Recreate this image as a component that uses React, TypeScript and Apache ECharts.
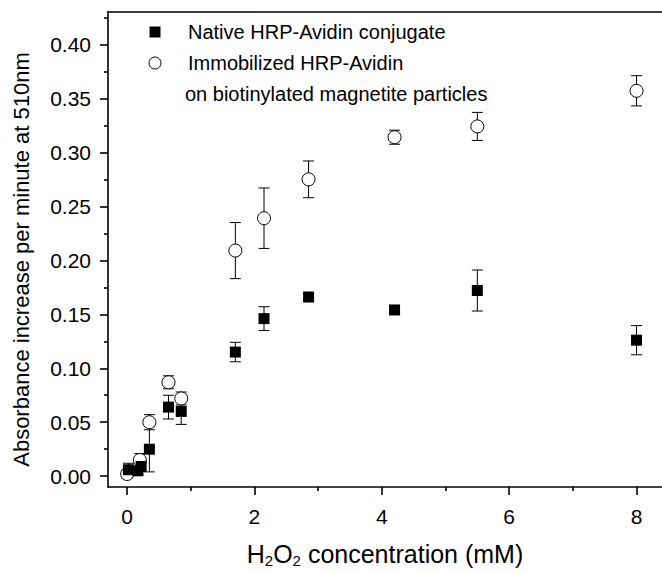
import React, { useEffect, useRef } from "react";
import * as echarts from "echarts";

// Data
const nativeX = [0.02, 0.17, 0.22, 0.35, 0.65, 0.85, 1.7, 2.15, 2.85, 4.2, 5.5, 8.0];
const nativeY = [0.006, 0.005, 0.009, 0.025, 0.064, 0.06, 0.115, 0.146, 0.166, 0.154, 0.172, 0.126];
const nativeErr = [0.006, 0.003, 0.003, 0.021, 0.011, 0.012, 0.009, 0.011, 0.003, 0.003, 0.019, 0.0135];

const immobX = [0.0, 0.2, 0.35, 0.65, 0.85, 1.7, 2.15, 2.85, 4.2, 5.5, 8.0];
const immobY = [0.002, 0.015, 0.05, 0.087, 0.072, 0.209, 0.239, 0.275, 0.314, 0.324, 0.357];
const immobErr = [0.004, 0.006, 0.007, 0.006, 0.006, 0.026, 0.028, 0.017, 0.0065, 0.013, 0.014];

const xMajorTicks = [0, 2, 4, 6, 8];
const xMinorTicks = [1, 3, 5, 7];
const yMajorTicks = [0, 0.05, 0.1, 0.15, 0.2, 0.25, 0.3, 0.35, 0.4];
const yMinorTicks = [0.025, 0.075, 0.125, 0.175, 0.225, 0.275, 0.325, 0.375, 0.425];

const seriesNames = ["Native HRP-Avidin conjugate", "Immobilized HRP-Avidin", "on biotinylated magnetite particles"];

const FONT = "'Liberation Sans', Arial, Helvetica, sans-serif";

export default function App() {
  const ref = useRef<HTMLDivElement>(null);
  useEffect(() => {
    if (!ref.current) return;
    const chart = echarts.init(ref.current, null, { renderer: "svg" });
    const xMin = -0.3, xMax = 8.4, yMin = -0.01, yMax = 0.43;
    const axisCommon = { type: "value", splitLine: { show: false } };
    const errRender = (params: any, api: any) => {
      const x = api.value(0), y = api.value(1), e = api.value(2);
      const t = api.coord([x, y + e]);
      const b = api.coord([x, y - e]);
      const hw = 5.5;
      const st = { stroke: "#000", lineWidth: 1 };
      return {
        type: "group",
        children: [
          { type: "line", shape: { x1: t[0], y1: t[1], x2: b[0], y2: b[1] }, style: st },
          { type: "line", shape: { x1: t[0] - hw, y1: t[1], x2: t[0] + hw, y2: t[1] }, style: st },
          { type: "line", shape: { x1: b[0] - hw, y1: b[1], x2: b[0] + hw, y2: b[1] }, style: st },
        ],
      };
    };
    const option: any = {
      animation: false,
      textStyle: { fontFamily: FONT },
      grid: { left: 108, top: 12, width: 555, height: 477 },
      xAxis: [
        {
          ...axisCommon, min: xMin, max: xMax, position: "bottom",
          axisLine: { show: true, onZero: false, lineStyle: { color: "#000", width: 1.6 } },
          axisTick: { show: true, inside: false, length: 8, customValues: xMajorTicks, lineStyle: { color: "#000", width: 1.6 } },
          axisLabel: { show: true, customValues: xMajorTicks, color: "#000", fontSize: 21, fontFamily: FONT, margin: 19 },
          name: "H{sub|2}O{sub|2} concentration (mM)",
          nameLocation: "middle",
          nameGap: 52,
          nameTextStyle: {
            color: "#000", fontSize: 25, fontFamily: FONT, lineHeight: 29,
            rich: { sub: { fontSize: 15, fontFamily: FONT, color: "#000", verticalAlign: "bottom", lineHeight: 29, padding: [12, 0, 0, 0] } },
          },
        },
        {
          ...axisCommon, min: xMin, max: xMax, position: "bottom",
          axisLine: { show: false, onZero: false },
          axisTick: { show: true, inside: false, length: 4, customValues: xMinorTicks, lineStyle: { color: "#000", width: 1.6 } },
          axisLabel: { show: false },
        },
        {
          ...axisCommon, min: xMin, max: xMax, position: "top",
          axisLine: { show: true, onZero: false, lineStyle: { color: "#000", width: 1.6 } },
          axisTick: { show: false },
          axisLabel: { show: false },
        },
      ],
      yAxis: [
        {
          ...axisCommon, min: yMin, max: yMax, position: "left",
          axisLine: { show: true, onZero: false, lineStyle: { color: "#000", width: 1.6 } },
          axisTick: { show: true, inside: false, length: 8, customValues: yMajorTicks, lineStyle: { color: "#000", width: 1.6 } },
          axisLabel: {
            show: true, customValues: yMajorTicks, color: "#000", fontSize: 21, fontFamily: FONT, margin: 17,
            formatter: (v: number) => v.toFixed(2),
          },
          name: "Absorbance increase per minute at 510nm",
          nameLocation: "middle",
          nameGap: 76,
          nameRotate: 90,
          nameTextStyle: { color: "#000", fontSize: 22, fontFamily: FONT, padding: [0, 20, 0, 0] },
        },
        {
          ...axisCommon, min: yMin, max: yMax, position: "left",
          axisLine: { show: false, onZero: false },
          axisTick: { show: true, inside: false, length: 4, customValues: yMinorTicks, lineStyle: { color: "#000", width: 1.6 } },
          axisLabel: { show: false },
        },
      ],
      series: [
        {
          type: "custom", name: "errNative", xAxisIndex: 0, yAxisIndex: 0,
          data: nativeX.map((x, i) => [x, nativeY[i], nativeErr[i]]),
          encode: { x: 0, y: 1 }, renderItem: errRender, z: 1, silent: true,
        },
        {
          type: "custom", name: "errImmob", xAxisIndex: 0, yAxisIndex: 0,
          data: immobX.map((x, i) => [x, immobY[i], immobErr[i]]),
          encode: { x: 0, y: 1 }, renderItem: errRender, z: 1, silent: true,
        },
        {
          type: "scatter", name: seriesNames[0], xAxisIndex: 0, yAxisIndex: 0,
          data: nativeX.map((x, i) => [x, nativeY[i]]),
          symbol: "rect", symbolSize: 11,
          itemStyle: { color: "#000", opacity: 1 }, z: 3,
        },
        {
          type: "scatter", name: seriesNames[1], xAxisIndex: 0, yAxisIndex: 0,
          data: immobX.map((x, i) => [x, immobY[i]]),
          symbol: "circle", symbolSize: 13,
          itemStyle: { color: "#fff", borderColor: "#000", borderWidth: 1, opacity: 1 }, z: 2,
        },
      ],
      graphic: [
        { type: "rect", shape: { x: 149.5, y: 26.5, width: 11, height: 11 }, style: { fill: "#000" } },
        { type: "circle", shape: { cx: 155, cy: 63, r: 6 }, style: { fill: "#fff", stroke: "#000", lineWidth: 1 } },
        { type: "text", x: 188, y: 32, style: { text: seriesNames[0], fill: "#000", fontSize: 20, fontFamily: FONT, verticalAlign: "middle" } },
        { type: "text", x: 188, y: 63, style: { text: seriesNames[1], fill: "#000", fontSize: 20, fontFamily: FONT, verticalAlign: "middle" } },
        { type: "text", x: 185, y: 94, style: { text: seriesNames[2], fill: "#000", fontSize: 20, fontFamily: FONT, verticalAlign: "middle" } },
      ],
    };
    chart.setOption(option);
    return () => chart.dispose();
  }, []);
  return (
    <div
      ref={ref}
      style={{ position: "fixed", left: 0, top: 0, width: 662, height: 573, background: "#fff" }}
    />
  );
}
